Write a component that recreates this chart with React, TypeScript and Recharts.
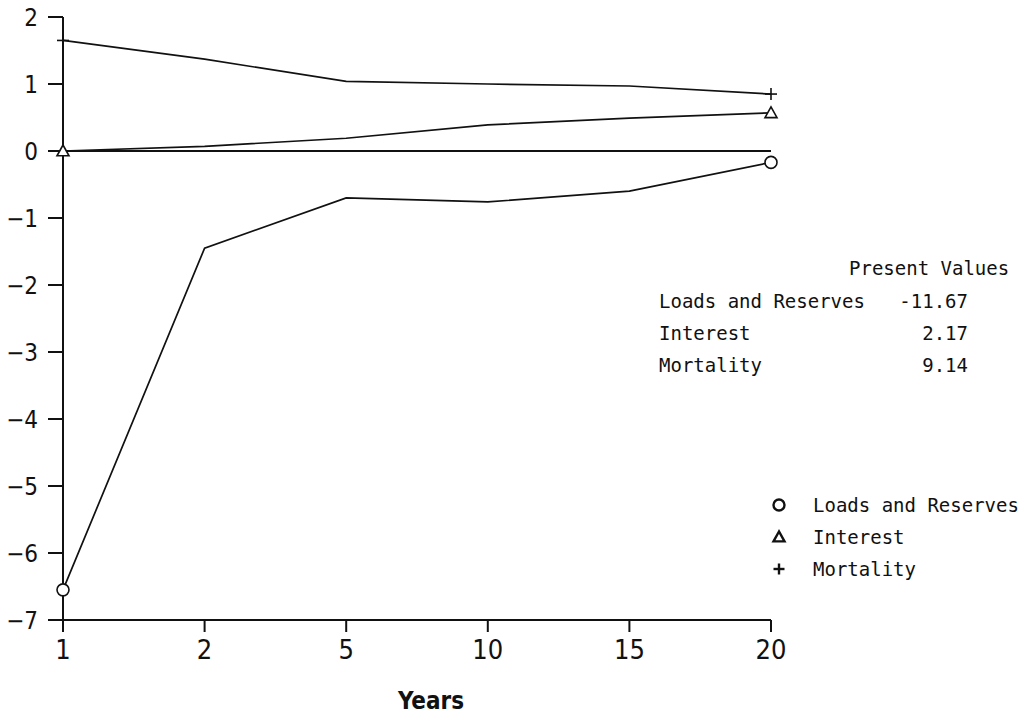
import { LineChart, Line, XAxis, YAxis, ReferenceLine, Legend } from "recharts";

const years = ["1", "2", "5", "10", "15", "20"];
const loadsAndReserves = [-6.55, -1.45, -0.7, -0.76, -0.6, -0.17];
const interest = [0.0, 0.07, 0.19, 0.39, 0.49, 0.57];
const mortality = [1.65, 1.37, 1.04, 1.0, 0.97, 0.85];
const yTicks = [-7, -6, -5, -4, -3, -2, -1, 0, 1, 2];

const pvLabels = ["Loads and Reserves", "Interest", "Mortality"];
const pvValues = [-11.67, 2.17, 9.14];

const data = years.map((year, i) => ({
  year,
  loads: loadsAndReserves[i],
  interest: interest[i],
  mortality: mortality[i],
}));

const INK = "#111";
const MONO = "'DejaVu Sans Mono', 'Liberation Mono', monospace";
const PLOT = "'DejaVu Sans Condensed', 'DejaVu Sans', sans-serif";

type Shape = "circle" | "triangle" | "plus";

const Marker = ({ shape, cx, cy, size = 12, sw = 1.6 }: { shape: Shape; cx: number; cy: number; size?: number; sw?: number }) => {
  const h = size / 2;
  if (shape === "circle") return <circle cx={cx} cy={cy} r={h} fill="white" stroke={INK} strokeWidth={sw} />;
  if (shape === "triangle")
    return (
      <polygon
        points={`${cx},${cy - h} ${cx - h},${cy + h * 0.8} ${cx + h},${cy + h * 0.8}`}
        fill="white"
        stroke={INK}
        strokeWidth={sw}
      />
    );
  return (
    <g stroke={INK} strokeWidth={sw}>
      <line x1={cx - h} y1={cy} x2={cx + h} y2={cy} />
      <line x1={cx} y1={cy - h} x2={cx} y2={cy + h} />
    </g>
  );
};

// markers only on the first and last year
const endDot = (shape: Shape) => (props: any) => {
  const { cx, cy, index, key } = props;
  if (index !== 0 && index !== years.length - 1) return <g key={key} />;
  return <Marker key={key} shape={shape} cx={cx} cy={cy} />;
};

const shapes: Record<string, Shape> = { loads: "circle", interest: "triangle", mortality: "plus" };
const legendOrder = ["loads", "interest", "mortality"];

const SymbolLegend = ({ payload }: any) => {
  const items = [...(payload ?? [])].sort(
    (a: any, b: any) => legendOrder.indexOf(a.dataKey) - legendOrder.indexOf(b.dataKey)
  );
  return (
    <div style={{ fontFamily: MONO, fontSize: 19, color: INK }}>
      {items.map((p: any) => (
        <div key={p.dataKey} style={{ display: "flex", alignItems: "center", height: 32 }}>
          <svg width={20} height={20} style={{ marginRight: 24 }}>
            <Marker shape={shapes[p.dataKey]} cx={10} cy={10} size={11} sw={2.4} />
          </svg>
          <span>{p.value}</span>
        </div>
      ))}
    </div>
  );
};

export default function App() {
  return (
    <div style={{ position: "absolute", left: 0, top: 0, width: 1029, height: 718, background: "white" }}>
      <LineChart width={1029} height={718} data={data} margin={{ top: 17, right: 258, bottom: 0, left: 0 }}>
        <XAxis
          dataKey="year"
          height={98}
          axisLine={{ stroke: INK, strokeWidth: 2 }}
          tickLine={{ stroke: INK, strokeWidth: 2 }}
          tickSize={12}
          tickMargin={8}
          tick={{ fill: INK, fontSize: 27, fontFamily: PLOT }}
          label={{ value: "Years", position: "insideBottom", offset: 9, dx: 14, fill: INK, fontSize: 24, fontWeight: 700, fontFamily: PLOT }}
        />
        <YAxis
          type="number"
          domain={[-7, 2]}
          ticks={yTicks}
          interval={0}
          width={63}
          axisLine={{ stroke: INK, strokeWidth: 2 }}
          tickLine={{ stroke: INK, strokeWidth: 2 }}
          tickSize={15}
          tickMargin={10}
          tick={{ fill: INK, fontSize: 24, fontFamily: PLOT }}
          tickFormatter={v => (v < 0 ? `\u2212${Math.abs(v)}` : `${v}`)}
        />
        <ReferenceLine y={0} stroke={INK} strokeWidth={2} />
        <Line dataKey="loads" name="Loads and Reserves" stroke={INK} strokeWidth={1.7} dot={endDot("circle")} isAnimationActive={false} />
        <Line dataKey="interest" name="Interest" stroke={INK} strokeWidth={1.7} dot={endDot("triangle")} isAnimationActive={false} />
        <Line dataKey="mortality" name="Mortality" stroke={INK} strokeWidth={1.7} dot={endDot("plus")} isAnimationActive={false} />
        <Legend
          layout="vertical"
          align="center"
          verticalAlign="middle"
          content={<SymbolLegend />}
          wrapperStyle={{ position: "absolute", left: 769, top: 489, width: 260 }}
        />
      </LineChart>

      <div style={{ position: "absolute", left: 849, top: 257, fontFamily: MONO, fontSize: 19, color: INK, whiteSpace: "pre" }}>
        Present Values
      </div>
      {pvLabels.map((label, i) => (
        <div
          key={label}
          style={{ position: "absolute", left: 659, top: 290 + i * 32, width: 309, display: "flex", justifyContent: "space-between", fontFamily: MONO, fontSize: 19, color: INK }}
        >
          <span>{label}</span>
          <span>{pvValues[i].toFixed(2)}</span>
        </div>
      ))}
    </div>
  );
}
